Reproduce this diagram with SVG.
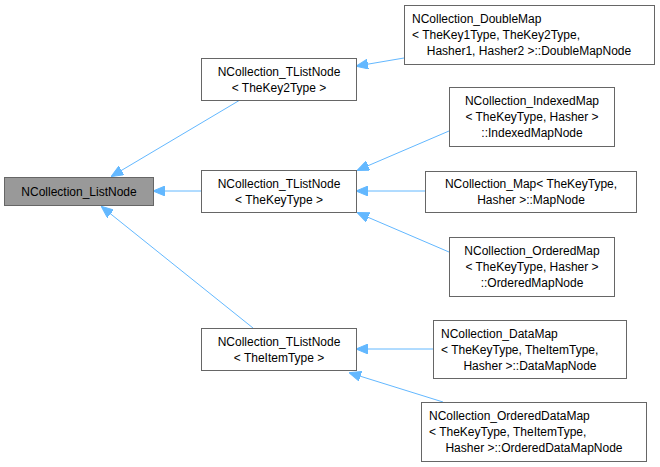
<svg xmlns="http://www.w3.org/2000/svg" width="660" height="467" viewBox="0 0 660 467">
<style>
rect{fill:#fff;stroke:#666;stroke-width:1}
#n0 rect{fill:#999;stroke:#666}
text{font-family:"Liberation Sans",Arial,sans-serif;font-size:12px;fill:#000}
.e{stroke:#63b8ff;stroke-width:1;fill:none;marker-end:url(#a)}
</style>
<defs><marker id="a" markerWidth="12" markerHeight="10" refX="11" refY="5" orient="auto" markerUnits="userSpaceOnUse"><path d="M0,0 L12,5 L0,10 Z" fill="#63b8ff" stroke="#63b8ff"/></marker></defs>
<g id="edges">
<line class="e" x1="240" y1="100" x2="112" y2="176"/>
<line class="e" x1="201" y1="191" x2="154" y2="191"/>
<line class="e" x1="253" y1="328" x2="102" y2="207"/>
<line class="e" x1="404" y1="58" x2="357" y2="66"/>
<line class="e" x1="449" y1="131" x2="358" y2="170"/>
<line class="e" x1="425" y1="191" x2="357" y2="191"/>
<line class="e" x1="449" y1="252" x2="358" y2="213"/>
<line class="e" x1="433" y1="349" x2="357" y2="349"/>
<line class="e" x1="443" y1="402" x2="350" y2="373"/>
</g>
<g id="n0"><rect x="4.5" y="177.5" width="149" height="28"/><text x="79" y="196" text-anchor="middle">NCollection_ListNode</text></g>
<g id="n1"><rect x="201.5" y="58.5" width="155" height="42"/><text x="279" y="76" text-anchor="middle">NCollection_TListNode</text><text x="279" y="92" text-anchor="middle">&lt; TheKey2Type &gt;</text></g>
<g id="n2"><rect x="201.5" y="170.5" width="155" height="42"/><text x="279" y="188" text-anchor="middle">NCollection_TListNode</text><text x="279" y="204" text-anchor="middle">&lt; TheKeyType &gt;</text></g>
<g id="n3"><rect x="201.5" y="328.5" width="155" height="42"/><text x="279" y="346" text-anchor="middle">NCollection_TListNode</text><text x="279" y="362" text-anchor="middle">&lt; TheItemType &gt;</text></g>
<g id="n4"><rect x="404.5" y="5.5" width="250" height="59"/><text x="412" y="23">NCollection_DoubleMap</text><text x="412" y="39">&lt; TheKey1Type, TheKey2Type,</text><text x="529" y="55" text-anchor="middle">Hasher1, Hasher2 &gt;::DoubleMapNode</text></g>
<g id="n5"><rect x="449.5" y="87.5" width="165" height="59"/><text x="532" y="105" text-anchor="middle">NCollection_IndexedMap</text><text x="532" y="121" text-anchor="middle">&lt; TheKeyType, Hasher &gt;</text><text x="532" y="137" text-anchor="middle">::IndexedMapNode</text></g>
<g id="n6"><rect x="425.5" y="171.5" width="211" height="41"/><text x="531" y="188" text-anchor="middle">NCollection_Map&lt; TheKeyType,</text><text x="531" y="204" text-anchor="middle">Hasher &gt;::MapNode</text></g>
<g id="n7"><rect x="449.5" y="237.5" width="165" height="59"/><text x="532" y="255" text-anchor="middle">NCollection_OrderedMap</text><text x="532" y="271" text-anchor="middle">&lt; TheKeyType, Hasher &gt;</text><text x="532" y="287" text-anchor="middle">::OrderedMapNode</text></g>
<g id="n8"><rect x="433.5" y="320.5" width="193" height="58"/><text x="441" y="338">NCollection_DataMap</text><text x="441" y="354">&lt; TheKeyType, TheItemType,</text><text x="530" y="370" text-anchor="middle">Hasher &gt;::DataMapNode</text></g>
<g id="n9"><rect x="421.5" y="402.5" width="225" height="59"/><text x="429" y="420">NCollection_OrderedDataMap</text><text x="429" y="436">&lt; TheKeyType, TheItemType,</text><text x="534" y="452" text-anchor="middle">Hasher &gt;::OrderedDataMapNode</text></g>
</svg>
